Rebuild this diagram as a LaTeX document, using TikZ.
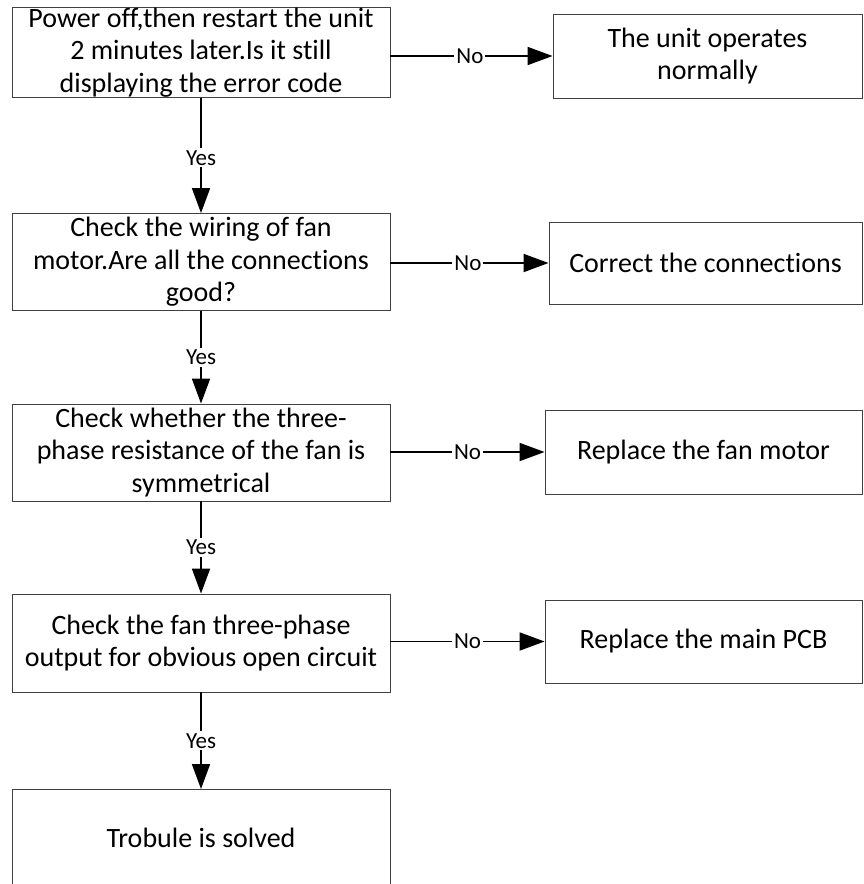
\documentclass[tikz,border=0pt]{standalone}
\usepackage{fontspec}
\setmainfont{Carlito}[RawFeature={-liga;-dlig;-clig}]
\usetikzlibrary{arrows.meta}
\begin{document}
\begin{tikzpicture}[x=1pt,y=-1pt,
  box/.style={draw=black!75,line width=0.9pt,rectangle,align=center,inner sep=0pt,
    font=\fontsize{28}{32.5}\selectfont},
  conn/.style={draw=black,line width=1.8pt,-{Triangle[length=25pt,width=18pt]}},
  lab/.style={fill=white,inner sep=2pt,font=\fontsize{23}{24}\selectfont}]
\useasboundingbox (0,0) rectangle (863,884);
\clip (0,0) rectangle (863,884);
\node[box,minimum width=378pt,minimum height=90pt] (b1) at (201,52.5)
  {Power off,then restart the unit\\2 minutes later.Is it still\\displaying the error code};
\node[box,minimum width=309pt,minimum height=84pt] (r1) at (707.5,56)
  {The unit operates\\normally};
\node[box,minimum width=378pt,minimum height=97pt] (b2) at (201,262)
  {Check the wiring of fan\\motor.Are all the connections\\good?};
\node[box,minimum width=313pt,minimum height=82pt] (r2) at (705.5,263)
  {Correct the connections};
\node[box,minimum width=378pt,minimum height=97pt] (b3) at (201,452.5)
  {Check whether the three-\\phase resistance of the fan is\\symmetrical};
\node[box,minimum width=317pt,minimum height=84pt] (r3) at (703.5,452)
  {Replace the fan motor};
\node[box,minimum width=378pt,minimum height=98pt] (b4) at (201,643)
  {Check the fan three-phase\\output for obvious open circuit};
\node[box,minimum width=317pt,minimum height=83pt] (r4) at (703.5,641.5)
  {Replace the main PCB};
\node[box,minimum width=378pt,text height=58pt,text depth=62pt,anchor=north] (b5) at (201,789)
  {Trobule is solved};
\draw[conn] (b1.east |- r1.west) -- node[lab,pos=0.49]{No} (r1.west);
\draw[conn] (b2.east |- r2.west) -- node[lab,pos=0.49]{No} (r2.west);
\draw[conn] (b3.east |- r3.west) -- node[lab,pos=0.5]{No} (r3.west);
\draw[conn] (b4.east |- r4.west) -- node[lab,pos=0.5]{No} (r4.west);
\draw[conn] (b1.south) -- node[lab,pos=0.52]{Yes} (b2.north);
\draw[conn] (b2.south) -- node[lab]{Yes} (b3.north);
\draw[conn] (b3.south) -- node[lab]{Yes} (b4.north);
\draw[conn] (b4.south) -- node[lab]{Yes} (b5.north);
\end{tikzpicture}
\end{document}
